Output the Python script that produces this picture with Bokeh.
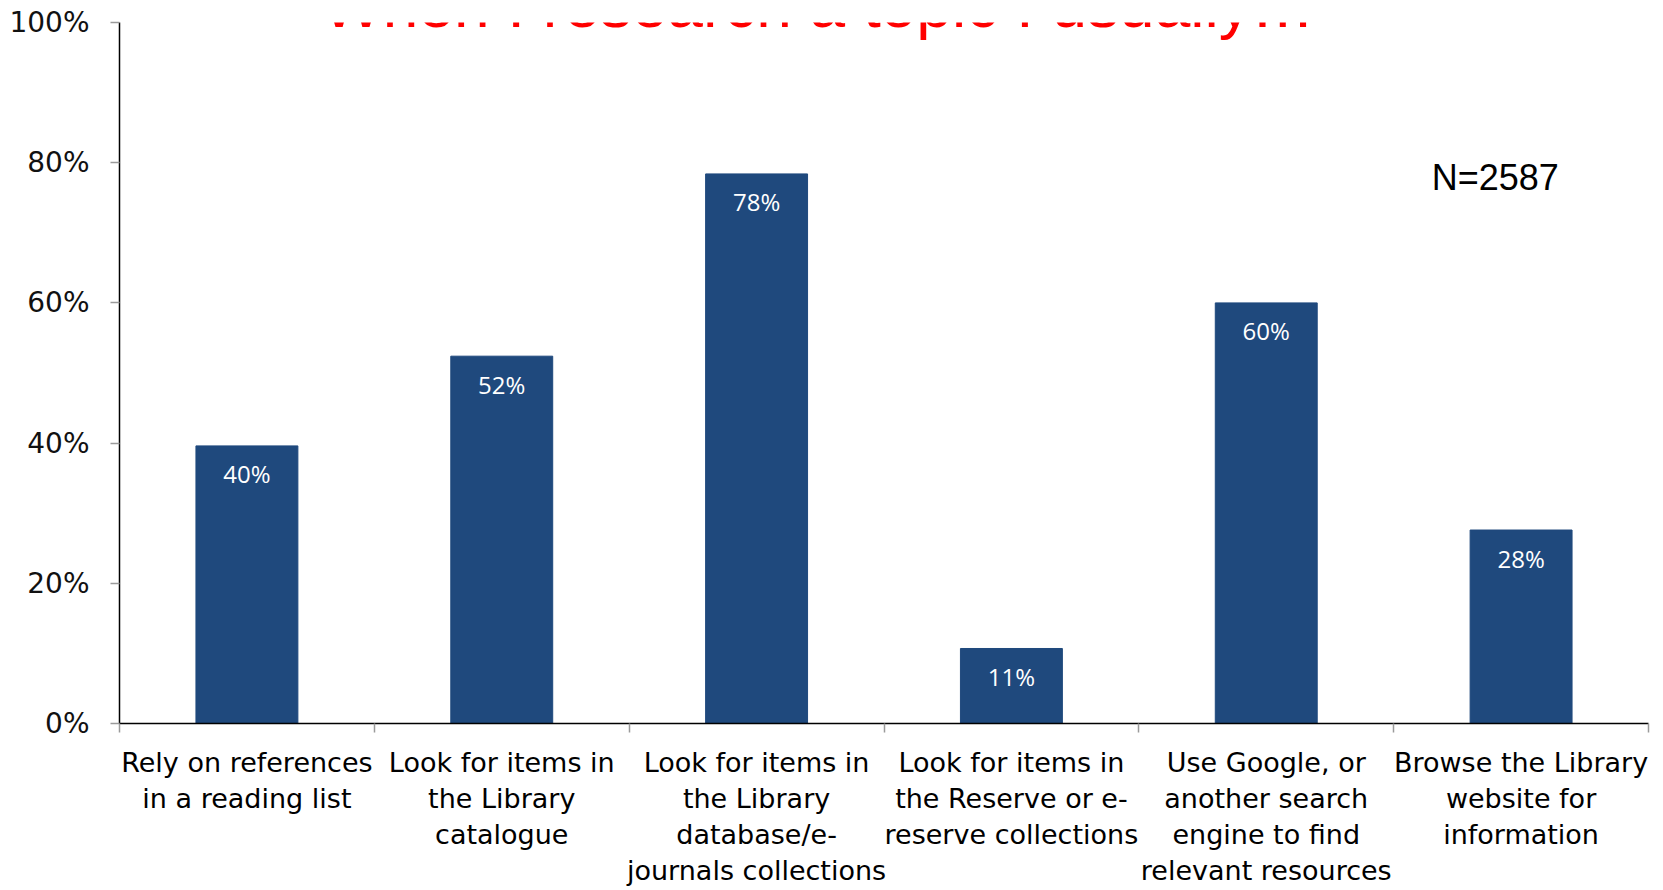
from bokeh.plotting import figure
from bokeh.models import FixedTicker, NumeralTickFormatter, Label, Range1d, ColumnDataSource
from bokeh.embed import file_html
from bokeh.resources import INLINE
from bokeh.core.properties import value

# ---- data ----
categories = [
    "Rely on references\nin a reading list",
    "Look for items in\nthe Library\ncatalogue",
    "Look for items in\nthe Library\ndatabase/e-\njournals collections",
    "Look for items in\nthe Reserve or e-\nreserve collections",
    "Use Google, or\nanother search\nengine to find\nrelevant resources",
    "Browse the Library\nwebsite for\ninformation",
]
shares = [0.396, 0.524, 0.784, 0.107, 0.600, 0.276]
y_ticks = [0.0, 0.2, 0.4, 0.6, 0.8, 1.0]
title_text = "When I research a topic I usually\u2026"
n_text = "N=2587"

positions = [i + 0.5 for i in range(len(categories))]
boundaries = list(range(len(categories) + 1))
bar_labels = [f"{round(v * 100)}%" for v in shares]

src = ColumnDataSource(dict(x=positions, top=shares, label=bar_labels))

p = figure(width=1663, height=890, x_range=Range1d(0, len(categories)), y_range=Range1d(0, 1),
           output_backend="svg", toolbar_location=None,
           min_border_left=119, min_border_right=15, min_border_top=22, min_border_bottom=167)
p.outline_line_color = None
p.xgrid.grid_line_color = None
p.ygrid.grid_line_color = None
p.background_fill_color = "white"
p.border_fill_color = "white"

p.vbar(x="x", top="top", width=0.4, source=src, fill_color="#1F497D", line_color="#1F497D")
p.text(x="x", y="top", text="label", source=src, text_color="white",
       text_font=value("Open Sans"), text_font_size="24px",
       text_align="center", text_baseline="middle", y_offset=28)

# x axis
xa = p.xaxis[0]
xa.ticker = FixedTicker(ticks=positions, minor_ticks=boundaries)
xa.major_label_overrides = {pos: lab for pos, lab in zip(positions, categories)}
xa.major_tick_line_color = None
xa.major_tick_out = 0
xa.major_tick_in = 0
xa.minor_tick_out = 9
xa.minor_tick_in = 0
xa.minor_tick_line_color = "#9a9a9a"
xa.minor_tick_line_width = 1.5
xa.axis_line_color = "black"
xa.axis_line_width = 1.5
xa.major_label_text_font = "DejaVu Sans"
xa.major_label_text_font_size = "27px"
xa.major_label_text_color = "black"
xa.major_label_text_line_height = 1.17
xa.major_label_standoff = 14

# y axis
ya = p.yaxis[0]
ya.ticker = FixedTicker(ticks=y_ticks, minor_ticks=[])
ya.formatter = NumeralTickFormatter(format="0%")
ya.major_tick_out = 9
ya.major_tick_in = 0
ya.major_tick_line_color = "#9a9a9a"
ya.major_tick_line_width = 1.5
ya.minor_tick_line_color = None
ya.axis_line_color = "black"
ya.axis_line_width = 1.5
ya.major_label_text_font = "DejaVu Sans"
ya.major_label_text_font_size = "28px"
ya.major_label_text_color = "#111111"
ya.major_label_standoff = 21

title = Label(x=2.743, y=1.025, text=title_text, text_align="center", text_baseline="alphabetic",
              text_font="Liberation Sans", text_font_size="64px", text_color="#FF0000")
p.add_layout(title)

n_label = Label(x=5.149, y=0.779, text=n_text, text_align="left", text_baseline="alphabetic",
                text_font="Liberation Sans", text_font_size="36px", text_color="black")
p.add_layout(n_label)

open("out.html", "w").write(file_html(p, INLINE))
